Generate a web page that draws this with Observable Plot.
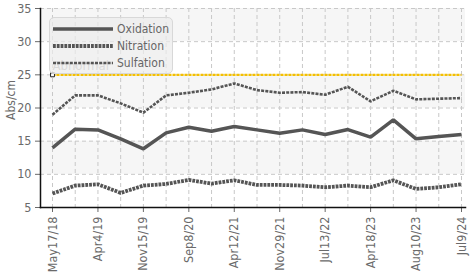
<!DOCTYPE html>
<html><head><meta charset="utf-8">
<script src="https://cdn.jsdelivr.net/npm/d3@7"></script>
<script src="https://cdn.jsdelivr.net/npm/@observablehq/plot@0.6"></script>
<style>
body{margin:0;background:#fff;}
#wrap{position:relative;width:471px;height:277px;font-family:"DejaVu Sans Condensed","DejaVu Sans",sans-serif;font-stretch:condensed;}
svg text{font-stretch:condensed;}
#legend{position:absolute;left:49px;top:17px;width:124px;height:57px;background:rgba(236,236,236,0.72);border:1px solid #d8d8d8;border-radius:5px;box-sizing:border-box;}
#legend .row{position:absolute;left:2px;height:14px;display:flex;align-items:center;font-size:12px;color:#666;}
#legend svg{margin-right:3px;}
#ylabel{position:absolute;left:11px;top:100px;transform:translate(-50%,-50%) rotate(-90deg);font-size:12px;color:#6a6a6a;white-space:nowrap;}
</style></head>
<body><div id="wrap"></div>
<script>
const dates = ["May17/18","","Apr4/19","","Nov15/19","","Sep8/20","","Apr12/21","","Nov29/21","","Jul13/22","","Apr18/23","","Aug10/23","","Jul9/24"];
const oxidation = [14.0,16.8,16.7,15.35,13.85,16.25,17.1,16.5,17.2,16.7,16.2,16.7,16.0,16.75,15.6,18.2,15.35,15.7,16.0];
const nitration = [7.1,8.3,8.5,7.2,8.3,8.55,9.15,8.6,9.1,8.4,8.4,8.3,8.05,8.3,8.05,9.1,7.8,8.05,8.5];
const sulfation = [19.0,21.9,21.9,20.7,19.3,21.9,22.3,22.8,23.7,22.7,22.3,22.4,22.0,23.2,21.0,22.6,21.3,21.4,21.5];
const abnormal = 25;
const bands = [[10,15],[20,25],[30,35]];
const yTicks = [5,10,15,20,25,30,35];

const idx = d3.range(dates.length);
const rows = (vals, name) => vals.map((v,i)=>({i, v, name}));
const series = [
  {name:"Oxidation", vals:oxidation, sw:3.5, dash:null},
  {name:"Nitration", vals:nitration, sw:3.8, dash:"2.8,1"},
  {name:"Sulfation", vals:sulfation, sw:2.6, dash:"3,1.2"}
];
const font = '"DejaVu Sans Condensed","DejaVu Sans",sans-serif';

const chart = Plot.plot({
  width:471, height:277,
  marginLeft:40, marginRight:6, marginTop:8, marginBottom:70,
  style:{fontFamily:font, fontSize:"12.5px", color:"#6a6a6a", background:"#fff"},
  x:{domain:[0,18], range:[52,461], ticks:idx.filter(i=>i%2===0), tickFormat:i=>dates[i], tickRotate:-90, tickSize:5, label:null},
  y:{domain:[5,35], ticks:yTicks, tickSize:5, label:null},
  marks:[
    Plot.rect(bands,{y1:d=>d[0], y2:d=>d[1], fill:"#f6f6f6"}),
    Plot.gridY(yTicks,{stroke:"#c8c8c8", strokeOpacity:1, strokeDasharray:"4,3"}),
    Plot.gridX(idx,{stroke:"#c8c8c8", strokeOpacity:1, strokeDasharray:"4,3"}),
    Plot.text([abnormal],{x:0, y:d=>d, text:()=>"Abnormal", textAnchor:"start", dy:-9, fill:"#aaa", fontSize:13}),
    Plot.lineY(idx,{x:d=>d, y:()=>abnormal, stroke:"#f5c000", strokeWidth:2.2, strokeDasharray:"3,1", strokeLinecap:"butt"}),
    Plot.dot([abnormal],{x:0, y:d=>d, symbol:"square", r:2.2, fill:"#fff", stroke:"#222", strokeWidth:1}),
    ...series.map(s=>Plot.line(rows(s.vals,s.name),{x:"i", y:"v", stroke:"#555", strokeWidth:s.sw, strokeDasharray:s.dash ?? undefined, strokeLinecap:"butt", strokeLinejoin:"miter"})),
    Plot.frame({anchor:"left", stroke:"#111", strokeWidth:1.5}),
    Plot.frame({anchor:"bottom", stroke:"#111", strokeWidth:1.5})
  ]
});
chart.style.position="absolute"; chart.style.left="0"; chart.style.top="0";
const wrap = document.getElementById("wrap");
wrap.appendChild(chart);

const yl = document.createElement("div"); yl.id="ylabel"; yl.textContent="Abs/cm";
wrap.appendChild(yl);

const leg = document.createElement("div"); leg.id="legend";
series.forEach((s,k)=>{
  const r = document.createElement("div"); r.className="row"; r.style.top=(4+k*17)+"px";
  r.innerHTML = `<svg width="62" height="8"><line x1="1" x2="61" y1="4" y2="4" stroke="#555" stroke-width="${s.sw}" ${s.dash?`stroke-dasharray="${s.dash}"`:""}/></svg><span>${s.name}</span>`;
  leg.appendChild(r);
});
wrap.appendChild(leg);
</script></body></html>
